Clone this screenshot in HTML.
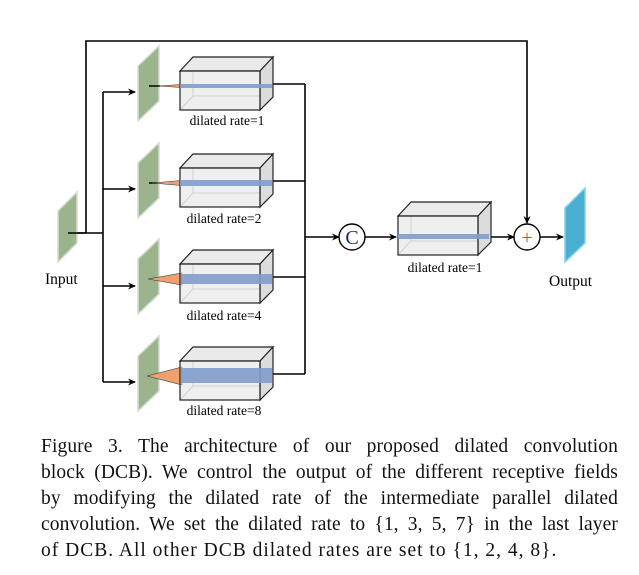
<!DOCTYPE html>
<html><head><meta charset="utf-8"><style>
body{margin:0;background:#fff;width:639px;height:575px;overflow:hidden;position:relative}
svg{position:absolute;left:0;top:0}
.cap{position:absolute;left:41px;top:434px;width:577px;font:19.5px/26px "Liberation Serif",serif;letter-spacing:0.1px;color:#111}
.cap div{text-align:justify;text-align-last:justify;white-space:nowrap}
.cap div.l{text-align-last:left;letter-spacing:1px}
text{font-family:"Liberation Serif",serif}
</style></head><body>
<svg width="639" height="430" viewBox="0 0 639 430">
<defs>
<marker id="a" markerWidth="8" markerHeight="8" refX="7" refY="4" orient="auto" markerUnits="userSpaceOnUse"><path d="M0,0.5 L8,4 L0,7.5 L2.5,4z" fill="#000"/></marker>
<g id="box">
<rect x="193" y="57" width="80" height="39" fill="none" stroke="#bbb" stroke-width="1"/>
<line x1="180" y1="110" x2="193" y2="96" stroke="#bbb"/>
<polygon points="180,71 193,57 273,57 260,71" fill="#eaeaea" stroke="#222" stroke-width="1.2"/>
<polygon points="260,71 273,57 273,97 260,110" fill="#dcdcdc" stroke="#222" stroke-width="1.2"/>
<rect x="180" y="71" width="80" height="39" fill="rgba(225,225,225,0.55)" stroke="#222" stroke-width="1.2"/>
</g>
<polygon id="pl" points="138,66 159,46 159,101 138,121" fill="#9bb48d" stroke="#d6ddd0" stroke-width="1.5"/>
</defs>
<g stroke="#000" stroke-width="1.6" fill="none">
<line x1="68" y1="233" x2="103" y2="233"/>
<polyline points="86,233 86,41 527,41 527,223" marker-end="url(#a)"/>
<line x1="103" y1="92" x2="103" y2="382"/>
<line x1="103" y1="92" x2="135" y2="92" marker-end="url(#a)"/>
<line x1="103" y1="189" x2="135" y2="189" marker-end="url(#a)"/>
<line x1="103" y1="286" x2="135" y2="286" marker-end="url(#a)"/>
<line x1="103" y1="382" x2="135" y2="382" marker-end="url(#a)"/>
<line x1="273" y1="84" x2="305" y2="84"/>
<line x1="273" y1="181" x2="305" y2="181"/>
<line x1="273" y1="277" x2="305" y2="277"/>
<line x1="273" y1="374" x2="305" y2="374"/>
<line x1="305" y1="84" x2="305" y2="374"/>
<line x1="305" y1="237" x2="339" y2="237" marker-end="url(#a)"/>
<line x1="365" y1="237" x2="396" y2="237" marker-end="url(#a)"/>
<line x1="487" y1="237" x2="514" y2="237" marker-end="url(#a)"/>
<line x1="540" y1="237" x2="563" y2="237" marker-end="url(#a)"/>
</g>
<polygon points="58,211 77,192 77,243 58,262" fill="#9bb48d" stroke="#d6ddd0" stroke-width="1.5"/>
<line x1="68" y1="233" x2="86" y2="233" stroke="#000" stroke-width="1.6"/>
<g>
<use href="#pl"/><line x1="149" y1="86" x2="160" y2="86" stroke="#000" stroke-width="1.5"/>
<polygon points="158,86 181,84.5 181,87.5" fill="#f0a070" stroke="#333" stroke-width=".5"/>
<use href="#box"/><rect x="180" y="84" width="92" height="4" fill="#7f9ccc" opacity=".9"/>
<text x="227" y="125" font-size="13.5" text-anchor="middle">dilated rate=1</text>
</g>
<g transform="translate(0,97)">
<use href="#pl"/><line x1="149" y1="86" x2="158" y2="86" stroke="#000" stroke-width="1.5"/>
<polygon points="152,86 181,83.5 181,88.5" fill="#f0a070" stroke="#333" stroke-width=".5"/>
<use href="#box"/><rect x="180" y="83" width="92" height="6" fill="#7f9ccc" opacity=".9"/>
<text x="224" y="126" font-size="13.5" text-anchor="middle">dilated rate=2</text>
</g>
<g transform="translate(0,193)">
<use href="#pl"/>
<polygon points="148,86 182,80 182,92" fill="#f0a070" stroke="#333" stroke-width=".6"/>
<use href="#box"/><rect x="181" y="81" width="91" height="10" fill="#7f9ccc" opacity=".9"/>
<text x="224" y="127" font-size="13.5" text-anchor="middle">dilated rate=4</text>
</g>
<g transform="translate(0,290)">
<use href="#pl"/>
<polygon points="147,86 182,77 182,95" fill="#f0a070" stroke="#333" stroke-width=".6"/>
<use href="#box"/><rect x="181" y="78" width="91" height="15" fill="#7f9ccc" opacity=".9"/>
<text x="224" y="125" font-size="13.5" text-anchor="middle">dilated rate=8</text>
</g>
<g transform="translate(218,145)"><use href="#box"/><rect x="180" y="89" width="91" height="5" fill="#7f9ccc" opacity=".9"/></g>
<text x="445" y="272" font-size="13.5" text-anchor="middle">dilated rate=1</text>
<circle cx="352" cy="237" r="13" fill="#fff" stroke="#000" stroke-width="1.4"/>
<text x="352" y="244" font-size="20" text-anchor="middle" fill="#1a2a55">C</text>
<circle cx="527" cy="237" r="13" fill="#fff" stroke="#000" stroke-width="1.4"/>
<text x="527" y="244" font-size="20" text-anchor="middle" fill="#b06020">+</text>
<polygon points="565,208 585,188 585,243 565,262" fill="#4aaed0" stroke="#7fd4f0" stroke-width="1.5"/>
<text x="45" y="284" font-size="15.5">Input</text>
<text x="549" y="286" font-size="15.5">Output</text>
</svg>
<div class="cap">
<div>Figure 3. The architecture of our proposed dilated convolution</div>
<div>block (DCB). We control the output of the different receptive fields</div>
<div>by modifying the dilated rate of the intermediate parallel dilated</div>
<div>convolution. We set the dilated rate to {1, 3, 5, 7} in the last layer</div>
<div class="l">of DCB. All other DCB dilated rates are set to {1, 2, 4, 8}.</div>
</div>
</body></html>
